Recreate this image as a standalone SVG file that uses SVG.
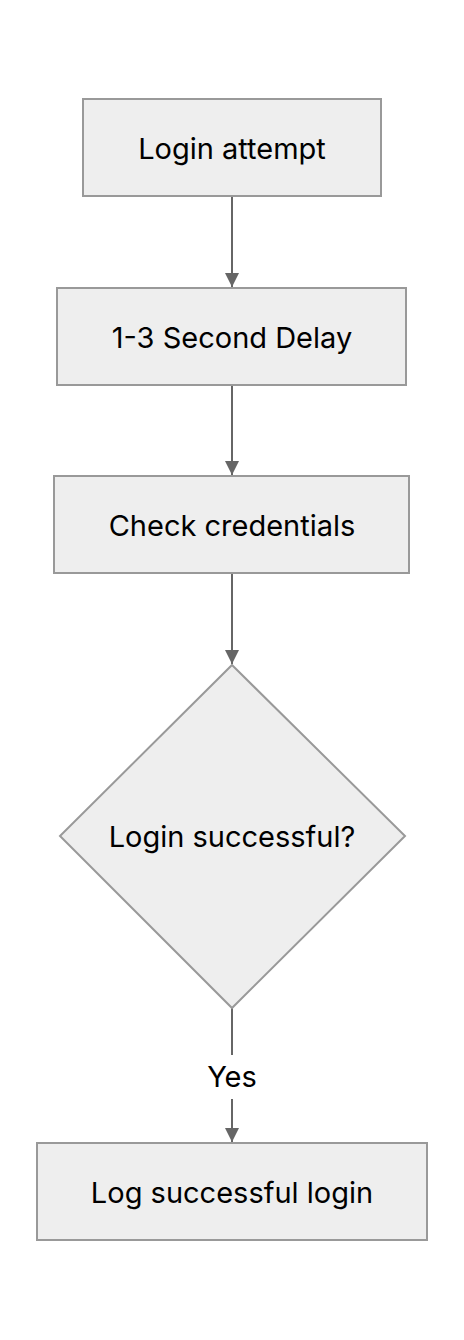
<svg xmlns="http://www.w3.org/2000/svg" width="464" height="1340" viewBox="0 0 464 1340">
<style>
.n{fill:#eeeeee;stroke:#999999;stroke-width:2}
.t{font-family:Inter,"Liberation Sans",sans-serif;font-size:29px;fill:#000;text-anchor:middle;dominant-baseline:central}
.e{stroke:#666666;stroke-width:2;fill:none}
</style>
<defs>
<marker id="a" markerUnits="userSpaceOnUse" markerWidth="16" markerHeight="16" refX="14" refY="7" orient="auto">
<path d="M0,0 L14,7 L0,14 Z" fill="#666666"/>
</marker>
</defs>
<rect width="464" height="1340" fill="#ffffff"/>
<g id="edges">
<path class="e" d="M232,197 V287" marker-end="url(#a)"/>
<path class="e" d="M232,386 V475" marker-end="url(#a)"/>
<path class="e" d="M232,574 V664" marker-end="url(#a)"/>
<path class="e" d="M232,1008 V1142" marker-end="url(#a)"/>
<rect x="198" y="1055" width="68" height="44" fill="#ffffff"/>
<text class="t" x="232" y="1076">Yes</text>
</g>
<g id="n1"><rect class="n" x="83" y="99" width="298" height="97"/><text class="t" x="232" y="148">Login attempt</text></g>
<g id="n2"><rect class="n" x="57" y="288" width="349" height="97"/><text class="t" x="232" y="337">1-3 Second Delay</text></g>
<g id="n3"><rect class="n" x="54" y="476" width="355" height="97"/><text class="t" x="232" y="525">Check credentials</text></g>
<g id="n4"><polygon class="n" points="232,665 405,836 232,1008 60,836"/><text class="t" x="232" y="836">Login successful?</text></g>
<g id="n5"><rect class="n" x="37" y="1143" width="390" height="97"/><text class="t" x="232" y="1192">Log successful login</text></g>
</svg>
